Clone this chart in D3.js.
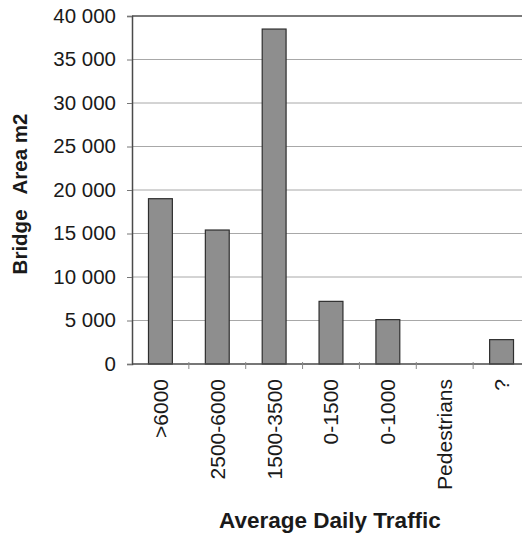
<!DOCTYPE html>
<html>
<head>
<meta charset="utf-8">
<script src="https://cdn.jsdelivr.net/npm/d3@7"></script>
<style>
  html, body { margin: 0; padding: 0; background: #fff; }
  svg { display: block; }
  text { font-family: "Liberation Sans", Arial, sans-serif; fill: #1a1a1a; }
</style>
</head>
<body>
<svg id="chart" width="522" height="539"></svg>
<script>
// Bridge deck area by average daily traffic class
const categories = [">6000", "2500-6000", "1500-3500", "0-1500", "0-1000", "Pedestrians", "?"];
const areas = [19000, 15400, 38500, 7200, 5100, 0, 2800];
const yTicks = [0, 5000, 10000, 15000, 20000, 25000, 30000, 35000, 40000];
const xTitle = "Average Daily Traffic";
const yTitleParts = ["Bridge", "Area m2"];

const svg = d3.select("#chart");
const plotLeft = 132, plotRight = 530, plotTop = 16, plotBottom = 364;

const x = d3.scaleBand().domain(categories).range([plotLeft, plotRight]).paddingInner(0).paddingOuter(0);
const y = d3.scaleLinear().domain([0, 40000]).range([plotBottom, plotTop]);
const barW = x.bandwidth() * 0.42;

// horizontal gridlines
svg.append("g")
  .selectAll("line")
  .data(yTicks.filter(d => d > 0))
  .join("line")
  .attr("x1", plotLeft).attr("x2", 522)
  .attr("y1", d => y(d)).attr("y2", d => y(d))
  .attr("stroke", d => d === 40000 ? "#7a7a7a" : "#a8a8a8")
  .attr("stroke-width", d => d === 40000 ? 2 : 1);

// bars
svg.append("g")
  .selectAll("rect")
  .data(categories.map((c, i) => ({ c, v: areas[i] })).filter(d => d.v > 0))
  .join("rect")
  .attr("x", d => x(d.c) + x.bandwidth() / 2 - barW / 2)
  .attr("width", barW)
  .attr("y", d => y(d.v))
  .attr("height", d => y(0) - y(d.v))
  .attr("fill", "#8e8e8e")
  .attr("stroke", "#2e2e2e")
  .attr("stroke-width", 1.2);

// y axis
const fmt = d => d3.format(",")(d).replace(/,/g, " ");
const yAxis = d3.axisLeft(y).tickValues(yTicks).tickSize(5).tickPadding(11).tickFormat(fmt);
const gy = svg.append("g").attr("transform", `translate(${plotLeft},0)`).call(yAxis);
gy.select(".domain").attr("stroke", "#4a4a4a").attr("stroke-width", 1.5);
gy.selectAll(".tick line").attr("stroke", "#777");
gy.selectAll(".tick text")
  .attr("font-size", 20.5)
  .style("font-family", "'Liberation Sans', Arial, sans-serif")
  .attr("fill", "#1a1a1a")
  .attr("dy", "0.3em");

// x axis line and category separators
svg.append("line")
  .attr("x1", plotLeft).attr("x2", 522)
  .attr("y1", plotBottom).attr("y2", plotBottom)
  .attr("stroke", "#4a4a4a").attr("stroke-width", 1.5);
svg.append("g")
  .selectAll("line")
  .data(categories.slice(1))
  .join("line")
  .attr("x1", d => x(d)).attr("x2", d => x(d))
  .attr("y1", plotBottom - 2).attr("y2", plotBottom + 5)
  .attr("stroke", "#888");

// category labels, rotated
svg.append("g")
  .selectAll("text")
  .data(categories)
  .join("text")
  .attr("transform", d => `translate(${x(d) + x.bandwidth() / 2},379) rotate(-90)`)
  .attr("text-anchor", "end")
  .attr("dy", "0.35em")
  .attr("font-size", 21)
  .text(d => d);

// axis titles
svg.append("text")
  .attr("x", 330).attr("y", 528)
  .attr("text-anchor", "middle")
  .attr("font-size", 22.5)
  .attr("font-weight", "bold")
  .text(xTitle);

const yt = svg.append("text")
  .attr("transform", "translate(27,194) rotate(-90)")
  .attr("text-anchor", "middle")
  .attr("font-size", 20.5)
  .attr("font-weight", "bold");
yt.append("tspan").text(yTitleParts[0]);
yt.append("tspan").attr("dx", 10).text(" " + yTitleParts[1]);
</script>
</body>
</html>
